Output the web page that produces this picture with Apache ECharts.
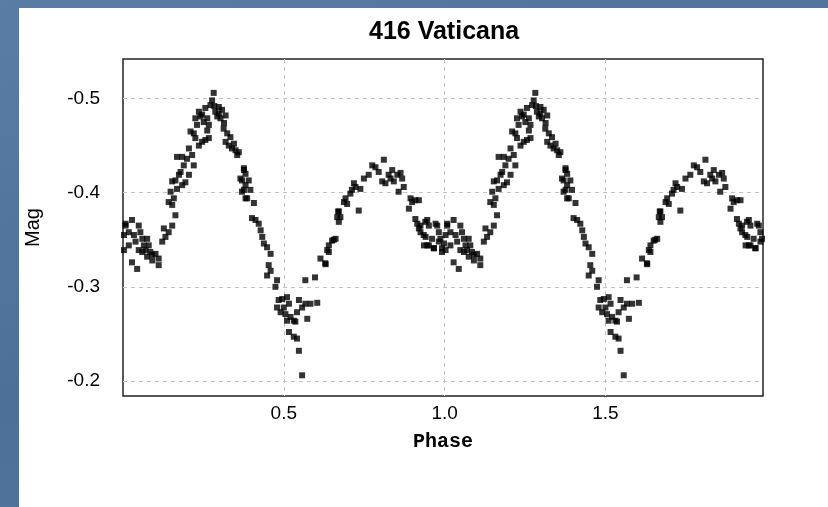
<!DOCTYPE html>
<html>
<head>
<meta charset="utf-8">
<script src="https://cdn.jsdelivr.net/npm/echarts@6/dist/echarts.min.js"></script>
<style>
  html, body { margin: 0; padding: 0; }
  body {
    width: 828px; height: 507px; position: relative; overflow: hidden;
    background: linear-gradient(160deg, #5a7da6 0%, #4d7099 50%, #56799f 100%);
  }
  #panel { position: absolute; left: 19px; top: 8px; right: 0; bottom: 0; background: #fff; }
  #chart { position: absolute; left: 0; top: 0; width: 828px; height: 507px; }
</style>
</head>
<body>
<div id="panel"></div>
<div id="chart"></div>
<script>
// one rotation of the lightcurve, plotted twice (phase and phase + 1)
const phase = [
  0.008, 0.028, 0.049, 0.003, 0.018, 0.034, 0.054, 0.060, 0.075, 0.018,
  0.039, 0.065, 0.080, 0.049, 0.070, 0.085, 0.091, 0.101, 0.111, 0.111,
  0.028, 0.044, 0.091, 0.075, 0.060, 0.122, 0.132, 0.127, 0.142, 0.153,
  0.163, 0.153, 0.158, 0.148, 0.168, 0.163, 0.174, 0.184, 0.194, 0.179,
  0.205, 0.168, 0.184, 0.199, 0.205, 0.215, 0.220, 0.225, 0.220, 0.236,
  0.246, 0.256, 0.267, 0.230, 0.241, 0.236, 0.251, 0.262, 0.267, 0.256,
  0.272, 0.282, 0.277, 0.287, 0.293, 0.298, 0.308, 0.319, 0.303, 0.313,
  0.324, 0.334, 0.319, 0.329, 0.345, 0.350, 0.355, 0.339, 0.376, 0.365,
  0.381, 0.370, 0.386,
  0.246, 0.298, 0.225, 0.210, 0.189, 0.153, 0.142, 0.284, 0.262, 0.314,
  0.360, 0.376, 0.381, 0.391, 0.370, 0.376, 0.396, 0.381, 0.407, 0.401,
  0.412, 0.422, 0.428, 0.433, 0.438, 0.448, 0.459, 0.453, 0.459, 0.448,
  0.479, 0.474, 0.484, 0.495, 0.510, 0.479, 0.500, 0.516, 0.490, 0.505,
  0.521, 0.531, 0.510, 0.541, 0.557, 0.573, 0.547, 0.567, 0.583, 0.604,
  0.536, 0.516, 0.531, 0.541, 0.547, 0.557, 0.567, 0.597, 0.614, 0.630,
  0.635, 0.640, 0.650, 0.661, 0.666, 0.669,
  0.629, 0.640, 0.655, 0.671, 0.676, 0.671, 0.687, 0.697, 0.692, 0.707,
  0.712, 0.723, 0.738, 0.718, 0.733, 0.749, 0.764, 0.775, 0.785, 0.795,
  0.811, 0.806, 0.816, 0.826, 0.832, 0.837, 0.842, 0.853, 0.863, 0.868,
  0.857, 0.873, 0.894, 0.899, 0.909, 0.889, 0.909, 0.915, 0.920, 0.925,
  0.946, 0.972, 0.951, 0.941, 0.936, 0.951, 0.967, 0.982, 0.998, 0.008,
  0.003,
  0.920, 0.925, 0.940, 0.935, 0.946, 0.966, 0.961, 0.977, 0.982, 0.987,
  0.992, 0.992
];
const mag = [
  -0.365, -0.371, -0.365, -0.355, -0.358, -0.355, -0.358, -0.351, -0.351, -0.344,
  -0.348, -0.344, -0.344, -0.339, -0.339, -0.337, -0.334, -0.335, -0.330, -0.323,
  -0.326, -0.319, -0.328, -0.332, -0.337, -0.348, -0.353, -0.362, -0.358, -0.365,
  -0.376, -0.387, -0.394, -0.401, -0.404, -0.413, -0.419, -0.408, -0.411, -0.422,
  -0.419, -0.438, -0.438, -0.436, -0.447, -0.440, -0.429, -0.458, -0.463, -0.450,
  -0.454, -0.456, -0.458, -0.472, -0.481, -0.486, -0.475, -0.479, -0.472, -0.490,
  -0.493, -0.506, -0.498, -0.486, -0.481, -0.491, -0.488, -0.482, -0.479, -0.468,
  -0.463, -0.459, -0.454, -0.450, -0.452, -0.445, -0.440, -0.447, -0.424, -0.415,
  -0.408, -0.401, -0.394,
  -0.483, -0.484, -0.479, -0.465, -0.429, -0.412, -0.390, -0.492, -0.466, -0.474,
  -0.443, -0.426, -0.420, -0.413, -0.413, -0.403, -0.403, -0.394, -0.389, -0.373,
  -0.371, -0.367, -0.360, -0.353, -0.346, -0.342, -0.335, -0.323, -0.317, -0.312,
  -0.307, -0.300, -0.286, -0.287, -0.289, -0.278, -0.278, -0.282, -0.273, -0.271,
  -0.268, -0.264, -0.264, -0.273, -0.278, -0.266, -0.286, -0.282, -0.282, -0.283,
  -0.263, -0.252, -0.247, -0.245, -0.232, -0.206, -0.307, -0.310, -0.330, -0.324,
  -0.339, -0.344, -0.349, -0.351, -0.374, -0.380,
  -0.325, -0.337, -0.350, -0.369, -0.374, -0.380, -0.390, -0.388, -0.394, -0.399,
  -0.403, -0.406, -0.404, -0.410, -0.381, -0.415, -0.419, -0.429, -0.427, -0.422,
  -0.435, -0.412, -0.410, -0.419, -0.415, -0.424, -0.412, -0.419, -0.421, -0.415,
  -0.401, -0.406, -0.394, -0.390, -0.392, -0.383, -0.372, -0.367, -0.362, -0.358,
  -0.371, -0.367, -0.365, -0.353, -0.344, -0.344, -0.341, -0.348, -0.346, -0.367,
  -0.339,
  -0.392, -0.365, -0.369, -0.355, -0.344, -0.341, -0.351, -0.365, -0.358, -0.351,
  -0.341, -0.337
];
const cycles = [0, 1];
const xTicks = [0.5, 1.0, 1.5];
const yTicks = [-0.5, -0.4, -0.3, -0.2];

const points = [];
cycles.forEach(c => {
  phase.forEach((p, i) => points.push([p + c, mag[i]]));
});

const near = (v, list) => list.some(t => Math.abs(t - v) < 1e-6);
const gridLine = {
  show: true, showMinLine: false, showMaxLine: false,
  lineStyle: { color: '#c4c4c4', type: [4, 4], width: 1 }
};

const chart = echarts.init(document.getElementById('chart'), null, { renderer: 'canvas' });
chart.setOption({
  animation: false,
  title: {
    text: '416 Vaticana',
    left: 364,
    top: 15,
    textStyle: { fontFamily: 'Liberation Sans', fontSize: 25, fontWeight: 'bold', color: '#000' }
  },
  grid: {
    left: 123, top: 59, width: 640, height: 337,
    show: true, borderColor: '#222', borderWidth: 1.5, backgroundColor: 'transparent'
  },
  xAxis: {
    type: 'value',
    min: 0,
    max: 1.99,
    interval: 0.5,
    name: 'Phase',
    nameLocation: 'middle',
    nameGap: 36,
    nameTextStyle: { fontFamily: 'Liberation Mono', fontSize: 20, fontWeight: 'bold', color: '#000' },
    axisLine: { show: false },
    axisTick: { show: false },
    axisLabel: {
      margin: 8,
      fontFamily: 'Liberation Sans', fontSize: 19, color: '#000',
      formatter: v => near(v, xTicks) ? v.toFixed(1) : ''
    },
    splitLine: gridLine
  },
  yAxis: {
    type: 'value',
    inverse: true,
    min: -0.542,
    max: -0.184,
    splitNumber: 4,
    name: 'Mag',
    nameLocation: 'middle',
    nameGap: 80,
    nameRotate: 90,
    nameTextStyle: { fontFamily: 'Liberation Sans', fontSize: 20, color: '#000' },
    axisLine: { show: false },
    axisTick: { show: false },
    axisLabel: {
      margin: 23,
      fontFamily: 'Liberation Sans', fontSize: 19, color: '#000',
      formatter: v => near(v, yTicks) ? v.toFixed(1) : ''
    },
    splitLine: gridLine
  },
  series: [{
    type: 'scatter',
    data: points,
    symbol: 'rect',
    symbolSize: 6,
    itemStyle: { color: '#000' }
  }]
});
</script>
</body>
</html>
